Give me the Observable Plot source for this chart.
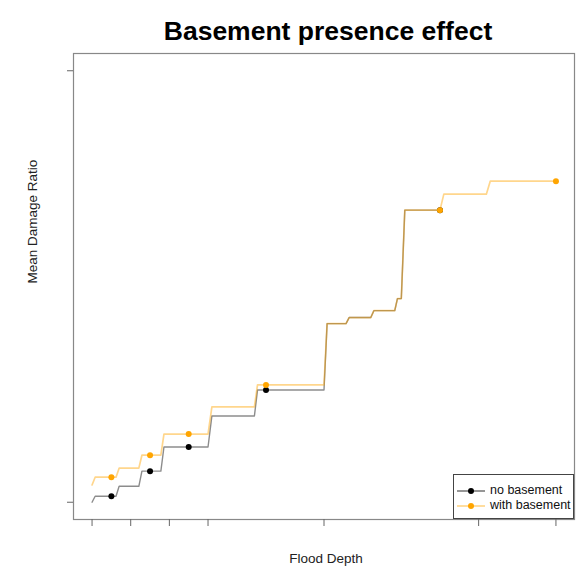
<!DOCTYPE html>
<html>
<head>
<meta charset="utf-8">
<script src="https://cdn.jsdelivr.net/npm/d3@7"></script>
<script src="https://cdn.jsdelivr.net/npm/@observablehq/plot@0.6"></script>
<style>
  body { margin: 0; background: #fff; font-family: "Liberation Sans", Arial, sans-serif; }
  #wrap { position: relative; width: 580px; height: 570px; }
  #legend { position: absolute; left: 453px; top: 474px; width: 121px; height: 45px;
            box-sizing: border-box; border: 1px solid #444; background: #fff; }
  .item { position: absolute; left: 0; height: 14px; font-size: 12.5px; color: #111; white-space: nowrap; }
  .item svg { position: absolute; left: 1px; top: 0; }
  .item span { position: absolute; left: 36px; top: -1px; }
</style>
</head>
<body>
<div id="wrap"></div>
<script>
// ---- data ----
const titleText = "Basement presence effect";
const xLabel = "Flood Depth";
const yLabel = "Mean Damage Ratio";
const seriesLabels = ["no basement", "with basement"];
const seriesColors = ["#000000", "#FFA500"];
const xTicks = [0, 1, 2, 3, 6, 10, 12];
const yTicks = [0, 1];

// no basement: vertices of the damage curve
const noBasementDepth = [0, 0.08, 0.62, 0.70, 1.21, 1.29, 1.78, 1.86, 3.00, 3.10, 4.20, 4.28, 6.00, 6.08, 6.57, 6.65, 7.21, 7.29, 7.83, 7.90, 8.00, 8.09, 9.00];
const noBasementMDR   = [0.000, 0.014, 0.014, 0.037, 0.037, 0.072, 0.072, 0.128, 0.128, 0.200, 0.200, 0.260, 0.260, 0.414, 0.414, 0.428, 0.428, 0.444, 0.444, 0.472, 0.472, 0.677, 0.677];
// with basement
const withBasementDepth = [0, 0.08, 0.62, 0.70, 1.21, 1.29, 1.78, 1.86, 3.00, 3.10, 4.20, 4.28, 6.00, 6.08, 6.57, 6.65, 7.21, 7.29, 7.83, 7.90, 8.00, 8.09, 9.00, 9.10, 10.20, 10.30, 12.00];
const withBasementMDR   = [0.040, 0.058, 0.058, 0.079, 0.079, 0.109, 0.109, 0.158, 0.158, 0.221, 0.221, 0.272, 0.272, 0.414, 0.414, 0.428, 0.428, 0.444, 0.444, 0.472, 0.472, 0.677, 0.677, 0.714, 0.714, 0.744, 0.744];

// marked points
const noBasementPtDepth = [0.5, 1.5, 2.5, 4.5, 9];
const noBasementPtMDR   = [0.014, 0.072, 0.128, 0.260, 0.677];
const withBasementPtDepth = [0.5, 1.5, 2.5, 4.5, 9, 12];
const withBasementPtMDR   = [0.058, 0.109, 0.158, 0.272, 0.677, 0.744];

// ---- tables ----
const lineNo = noBasementDepth.map((d, i) => ({depth: d, mdr: noBasementMDR[i]}));
const lineWith = withBasementDepth.map((d, i) => ({depth: d, mdr: withBasementMDR[i]}));
const ptsNo = noBasementPtDepth.map((d, i) => ({depth: d, mdr: noBasementPtMDR[i]}));
const ptsWith = withBasementPtDepth.map((d, i) => ({depth: d, mdr: withBasementPtMDR[i]}));

const chart = Plot.plot({
  width: 580,
  height: 570,
  marginLeft: 73,
  marginRight: 6,
  marginTop: 53,
  marginBottom: 51,
  style: { fontFamily: "Liberation Sans, Arial, sans-serif", background: "#fff" },
  x: { domain: [-0.48, 12.48], label: null },
  y: { domain: [-0.04, 1.04], label: null },
  marks: [
    Plot.frame({ stroke: "#888", strokeWidth: 1.2 }),
    Plot.axisX(xTicks, { tickSize: 7, tickFormat: () => "", stroke: "#666", label: null }),
    Plot.axisY(yTicks, { tickSize: 6, tickFormat: () => "", stroke: "#666", label: null }),
    Plot.line(lineNo, { x: "depth", y: "mdr", stroke: seriesColors[0], strokeOpacity: 0.45, strokeWidth: 1.4 }),
    Plot.dot(ptsNo, { x: "depth", y: "mdr", fill: seriesColors[0], r: 3 }),
    Plot.line(lineWith, { x: "depth", y: "mdr", stroke: seriesColors[1], strokeOpacity: 0.45, strokeWidth: 1.7 }),
    Plot.dot(ptsWith, { x: "depth", y: "mdr", fill: seriesColors[1], r: 3 }),
    Plot.text([titleText], { frameAnchor: "top", dy: -32, dx: 4, fontSize: 26.5, fontWeight: "bold", fill: "#000" }),
    Plot.text([xLabel], { frameAnchor: "bottom", dy: 43, dx: 2, fontSize: 13.5, fill: "#222" }),
    Plot.text([yLabel], { frameAnchor: "left", dx: -41, dy: -3, rotate: -90, fontSize: 13.5, fill: "#222" })
  ]
});

const wrap = document.getElementById("wrap");
wrap.appendChild(chart);

// legend
const legend = document.createElement("div");
legend.id = "legend";
seriesLabels.forEach((lab, i) => {
  const item = document.createElement("div");
  item.className = "item";
  item.style.top = (i === 0 ? 9 : 24) + "px";
  item.innerHTML = `<svg width="32" height="14"><line x1="2" x2="30" y1="7" y2="7" stroke="${seriesColors[i]}" stroke-opacity="${i===0?0.55:0.5}" stroke-width="1.5"/><circle cx="16" cy="7" r="3" fill="${seriesColors[i]}"/></svg><span>${lab}</span>`;
  legend.appendChild(item);
});
wrap.appendChild(legend);
</script>
</body>
</html>
